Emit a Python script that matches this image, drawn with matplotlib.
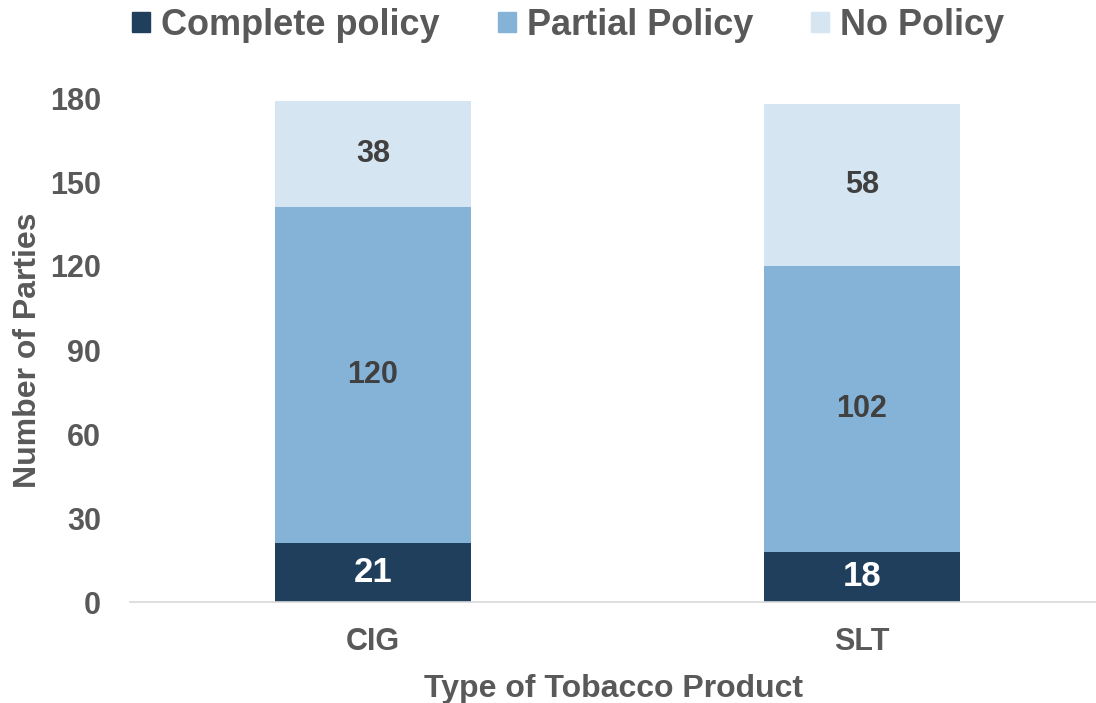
import matplotlib
matplotlib.use("Agg")
import matplotlib.pyplot as plt
from matplotlib.patches import Patch

categories = ["CIG", "SLT"]
complete = [21, 18]
partial = [120, 102]
nopolicy = [38, 58]
series_names = ["Complete policy", "Partial Policy", "No Policy"]
yticks = [0, 30, 60, 90, 120, 150, 180]

colors = ["#1F3F5C", "#85B3D7", "#D6E5F2"]
tc = "#595959"
dc = "#404040"
plt.rcParams['font.family'] = ['Liberation Sans', 'DejaVu Sans']
plt.rcParams['font.weight'] = 'bold'

fig = plt.figure(figsize=(10.96, 7.03), dpi=100)
ax = fig.add_axes([130/1096, 1-602/703, 966/1096, 504/703])

x = list(range(len(categories)))
w = 0.4
ax.bar(x, complete, w, color=colors[0])
bottom2 = complete
ax.bar(x, partial, w, bottom=bottom2, color=colors[1])
bottom3 = [a + b for a, b in zip(complete, partial)]
ax.bar(x, nopolicy, w, bottom=bottom3, color=colors[2])

for i in x:
    ax.text(i, complete[i] / 2, str(complete[i]), ha='center', va='center',
            color='white', fontsize=25, fontweight='bold')
    ax.text(i, bottom2[i] + partial[i] / 2, str(partial[i]), ha='center', va='center',
            color=dc, fontsize=22, fontweight='bold')
    ax.text(i, bottom3[i] + nopolicy[i] / 2, str(nopolicy[i]), ha='center', va='center',
            color=dc, fontsize=22, fontweight='bold')

ax.set_xlim(-0.497, 1.479)
ax.set_ylim(0, 180)
ax.set_yticks(yticks)
ax.set_xticks(x)
ax.set_xticklabels(categories)
for s in ['top', 'right', 'left']:
    ax.spines[s].set_visible(False)
ax.spines['bottom'].set_color('#D9D9D9')
ax.spines['bottom'].set_linewidth(1.2)
ax.tick_params(axis='both', length=0, labelsize=22, labelcolor=tc)
ax.tick_params(axis='y', pad=21)
ax.tick_params(axis='x', pad=18)
ax.set_ylabel("Number of Parties", fontsize=23, color=tc, fontweight='bold', labelpad=5)
ax.set_xlabel("Type of Tobacco Product", fontsize=23, color=tc, fontweight='bold', labelpad=12)

handles = [Patch(color=c) for c in colors]
fig.legend(handles, series_names, loc='upper center', bbox_to_anchor=(568/1096, 1.035), ncol=3,
           frameon=False, handlelength=0.5, handleheight=0.5,
           handletextpad=0.3, columnspacing=1.6, labelcolor=tc,
           prop={'weight': 'bold', 'size': 26})

fig.savefig("out.png", dpi=100)
